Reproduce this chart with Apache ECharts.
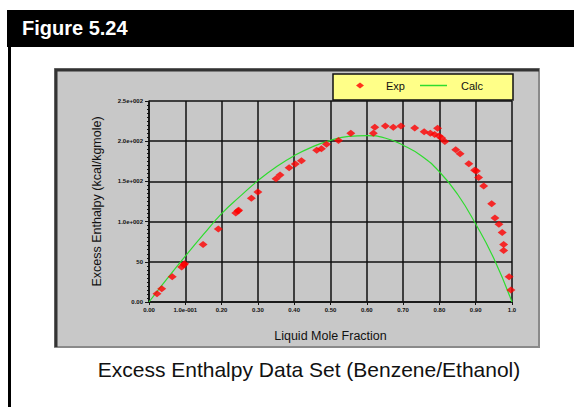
<!DOCTYPE html>
<html>
<head>
<meta charset="utf-8">
<script src="https://cdn.jsdelivr.net/npm/echarts@6/dist/echarts.min.js"></script>
<style>
  body { margin: 0; background: #fff; }
  #page { position: relative; width: 574px; height: 407px; overflow: hidden; font-family: 'Liberation Sans', Arial, sans-serif; }
  #head { position: absolute; left: 7px; top: 10px; width: 567px; height: 37px; background: #000; }
  #head span { position: absolute; left: 15px; top: 7px; color: #fff; font-weight: bold; font-size: 20px; }
  #rule { position: absolute; left: 8px; top: 47px; width: 3px; height: 360px; background: #000; }
  #chart { position: absolute; left: 0; top: 0; width: 574px; height: 407px; }
  #caption { position: absolute; left: 0; width: 618px; top: 358px; text-align: center; font-size: 21px; color: #111; }
</style>
</head>
<body>
<div id="page">
  <div id="head"><span>Figure 5.24</span></div>
  <div id="rule"></div>
  <div id="chart"></div>
  <div id="caption">Excess Enthalpy Data Set (Benzene/Ethanol)</div>
</div>
<script>
// experimental points: mole fraction / excess enthalpy
const expX = [0.022, 0.035, 0.064, 0.090, 0.096, 0.098, 0.149, 0.191, 0.239, 0.245, 0.247,
  0.282, 0.300, 0.350, 0.361, 0.386, 0.403, 0.420, 0.462, 0.475, 0.489, 0.522, 0.556,
  0.618, 0.622, 0.651, 0.673, 0.694, 0.732, 0.758, 0.775, 0.787, 0.795, 0.799, 0.806,
  0.815, 0.845, 0.857, 0.881, 0.897, 0.902, 0.908, 0.922, 0.944, 0.953, 0.964, 0.973,
  0.977, 0.977, 0.992, 0.997]
const expY = [10.3, 16.5, 31.4, 43.4, 46.3, 47.5, 71.5, 90.9, 110.7, 113.2, 114,
  128.9, 136.8, 153.3, 157.9, 167, 171.5, 175.6, 188.8, 190.5, 196.3, 200.8, 209.9,
  209.9, 217.4, 219, 217.4, 219, 216.5, 211.6, 209.9, 208.3, 216.1, 206.6, 204.1,
  199.6, 189.3, 184.3, 171.9, 164, 163, 155, 144.2, 122.3, 104.5, 96.7, 86.4,
  71.5, 64, 31.4, 14.9]

// calculated curve
const calcX = [0, 0.05, 0.1, 0.15, 0.2, 0.25, 0.3, 0.35, 0.4, 0.45, 0.5,
  0.55, 0.6, 0.65, 0.7, 0.75, 0.8, 0.85, 0.9, 0.95, 1.0]
const calcY = [0, 29, 57, 84, 110, 131, 151, 168, 182, 193, 201,
  206, 207, 204, 195, 182, 162, 134, 97, 54, 0]

const xTickLabels = ['0.00', '1.0e-001', '0.20', '0.30', '0.40', '0.50', '0.60', '0.70', '0.80', '0.90', '1.0']
const yTickLabels = ['0.00', '50', '1.0e+002', '1.5e+002', '2.0e+002', '2.5e+002']

const chart = echarts.init(document.getElementById('chart'), null, { renderer: 'svg' })

const tickFont = { color: '#111', fontSize: 6, fontWeight: 'bold', fontFamily: 'Liberation Sans' }
const legendFont = { fontSize: 11, color: '#111', fontFamily: 'Liberation Sans' }

const option = {
  animation: false,
  graphic: [
    // gray panel with darker top/left edge
    { type: 'rect', shape: { x: 55, y: 69, width: 484, height: 278 }, style: { fill: '#c8c8c8', stroke: '#8a8a8a', lineWidth: 2 }, z: -10 },
    { type: 'polyline', shape: { points: [[56, 347], [56, 70], [539, 70]] }, style: { stroke: '#333', lineWidth: 3, fill: null }, z: -9 },
    // legend box
    { type: 'rect', shape: { x: 333, y: 74, width: 180, height: 26 }, style: { fill: '#ffff88', stroke: '#111', lineWidth: 1.5 }, z: 5 }
  ],
  legend: [
    {
      data: [{ name: 'Exp', icon: 'diamond' }],
      left: 356, top: 80, padding: 0, itemWidth: 8, itemHeight: 6,
      textStyle: { ...legendFont, padding: [0, 0, 0, 17] },
      z: 10
    },
    {
      data: [{ name: 'Calc', icon: 'rect' }],
      left: 420, top: 80, padding: 0, itemWidth: 27, itemHeight: 1.5,
      textStyle: { ...legendFont, padding: [0, 0, 0, 9] },
      z: 10
    }
  ],
  grid: { left: 149, right: 62, top: 101, bottom: 105 },
  xAxis: {
    type: 'value', min: 0, max: 1, interval: 0.1,
    name: 'Liquid Mole Fraction', nameLocation: 'middle', nameGap: 27,
    nameTextStyle: { fontSize: 12.5, color: '#111', fontFamily: 'Liberation Sans' },
    axisLine: { lineStyle: { color: '#111', width: 1.5 } },
    axisTick: { show: true, length: 3, lineStyle: { color: '#111' } },
    axisLabel: {
      ...tickFont, margin: 5,
      formatter: v => xTickLabels[Math.round(v * 10)]
    },
    splitLine: { show: true, lineStyle: { color: '#111', width: 1.5 } }
  },
  yAxis: {
    type: 'value', min: 0, max: 250, interval: 50,
    name: 'Excess Enthalpy (kcal/kgmole)', nameLocation: 'middle', nameGap: 46,
    nameTextStyle: { fontSize: 12.5, color: '#111', fontFamily: 'Liberation Sans' },
    axisLine: { show: true, lineStyle: { color: '#111', width: 1.5 } },
    axisTick: { show: true, length: 4, lineStyle: { color: '#111' } },
    minorTick: { show: true, splitNumber: 10, length: 2, lineStyle: { color: '#111' } },
    axisLabel: {
      ...tickFont, margin: 6,
      formatter: v => yTickLabels[Math.round(v / 50)]
    },
    splitLine: { show: true, lineStyle: { color: '#111', width: 1.5 } }
  },
  series: [
    {
      name: 'Exp', type: 'scatter', symbol: 'diamond', symbolSize: [9, 7],
      itemStyle: { color: '#ff0000' },
      data: expX.map((x, i) => [x, expY[i]]),
      z: 4
    },
    {
      name: 'Calc', type: 'line', symbol: 'none', smooth: true,
      lineStyle: { color: '#2edc2e', width: 1.2 },
      itemStyle: { color: '#2edc2e' },
      data: calcX.map((x, i) => [x, calcY[i]]),
      z: 3
    }
  ]
}

chart.setOption(option)
</script>
</body>
</html>
